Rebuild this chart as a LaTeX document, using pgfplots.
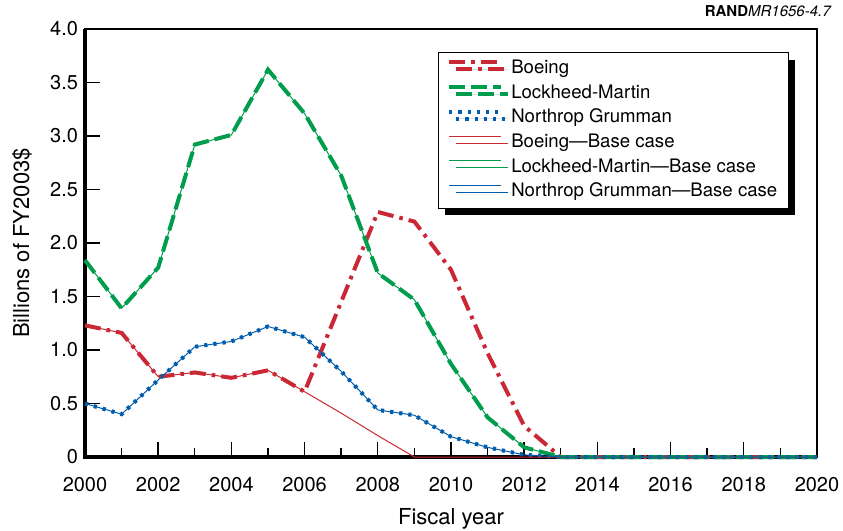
\documentclass[border=0pt]{standalone}
\usepackage{pgfplots}
\pgfplotsset{compat=1.18}
\usepackage{pgfplotstable}
\usetikzlibrary{shadows}
\usepackage{fontspec}
\setmainfont{TeX Gyre Heros}

\definecolor{bred}{RGB}{202,40,52}
\definecolor{lgreen}{RGB}{0,158,76}
\definecolor{nblue}{RGB}{0,92,172}

% year, Boeing, Boeing base case, Lockheed-Martin, Northrop Grumman (billions FY2003$)
\pgfplotstableread{
year  boeing  boeingbase  lm    ng
2000  1.23    1.23        1.84  0.50
2001  1.16    1.16        1.39  0.40
2002  0.75    0.75        1.77  0.72
2003  0.79    0.79        2.92  1.03
2004  0.74    0.74        3.01  1.08
2005  0.81    0.81        3.62  1.22
2006  0.61    0.61        3.21  1.12
2007  1.45    0.41        2.63  0.80
2008  2.29    0.20        1.72  0.44
2009  2.20    0.00        1.47  0.39
2010  1.75    0.00        0.87  0.19
2011  0.97    0.00        0.37  0.09
2012  0.29    0.00        0.09  0.02
2013  0.00    0.00        0.00  0.00
2014  0.00    0.00        0.00  0.00
2015  0.00    0.00        0.00  0.00
2016  0.00    0.00        0.00  0.00
2017  0.00    0.00        0.00  0.00
2018  0.00    0.00        0.00  0.00
2019  0.00    0.00        0.00  0.00
2020  0.00    0.00        0.00  0.00
}\fydata

\begin{document}
\begin{tikzpicture}
\useasboundingbox (-42.5pt,-37pt) rectangle (379pt,228.5pt);
\begin{axis}[
  scale only axis,
  width=366pt, height=214pt,
  xmin=2000, xmax=2020, ymin=0, ymax=4,
  clip=false,
  axis line style={line width=0.7pt},
  tick align=inside,
  xtick pos=bottom, ytick pos=left,
  xtick={2000,2002,...,2020},
  xticklabels={2000,2002,2004,2006,2008,2010,2012,2014,2016,2018,2020},
  minor xtick={2001,2003,...,2019},
  ytick={0,0.5,...,4},
  yticklabels={0,0.5,1.0,1.5,2.0,2.5,3.0,3.5,4.0},
  major tick length=7.5pt, minor tick length=4.5pt,
  tick style={black, line width=0.7pt},
  ticklabel style={font=\fontsize{10}{12}\selectfont},
  xticklabel style={yshift=-6.5pt},
  /pgf/number format/assume math mode=true,
  xlabel={Fiscal year}, ylabel={Billions of FY2003\$},
  label style={font=\fontsize{11}{13}\selectfont},
  xlabel style={at={(axis description cs:0.5,0)}, anchor=center, yshift=-31pt},
  ylabel style={at={(axis description cs:0,0.5)}, anchor=center, xshift=0pt, yshift=31.5pt},
  legend image code/.code={\draw[#1] (0pt,3.3pt) -- (26pt,3.3pt);},
  legend style={at={(axis description cs:1,1)}, xshift=-14pt, yshift=-11.5pt,
    anchor=north east, draw=black, line width=0.7pt, fill=white,
    drop shadow={shadow xshift=3.5pt, shadow yshift=-3.5pt, fill=black, opacity=1},
    font=\fontsize{9.3}{11.2}\selectfont, inner xsep=4.5pt, inner ysep=2pt,
    row sep=0pt, column sep=3pt,
    nodes={inner sep=1pt, text height=7.5pt, text depth=2.8pt}},
  legend cell align=left,
]
\draw[line width=2pt, black] (rel axis cs:0,1) -- (rel axis cs:0,0) -- (rel axis cs:1,0);

\addplot[bred, line width=2pt, dash pattern=on 8pt off 3pt on 1.8pt off 3pt] table[x=year, y=boeing] {\fydata};
\addlegendentry{Boeing}
\addplot[lgreen, line width=2pt, dash pattern=on 8pt off 3pt] table[x=year, y=lm] {\fydata};
\addlegendentry{Lockheed-Martin}
\addplot[nblue, line width=2pt, dash pattern=on 1.6pt off 3pt] table[x=year, y=ng] {\fydata};
\addlegendentry{Northrop Grumman}
\addplot[bred, line width=0.5pt] table[x=year, y=boeingbase] {\fydata};
\addlegendentry{Boeing---Base case}
\addplot[lgreen, line width=0.5pt] table[x=year, y=lm] {\fydata};
\addlegendentry{Lockheed-Martin---Base case}
\addplot[nblue, line width=0.5pt] table[x=year, y=ng] {\fydata};
\addlegendentry{Northrop Grumman---Base case}

\node[anchor=base east, font=\fontsize{7.5}{9}\selectfont, inner sep=0pt]
  at (rel axis cs:1,1) [xshift=7.5pt, yshift=6.5pt] {\textbf{RAND}\textit{MR1656-4.7}};
\end{axis}
\end{tikzpicture}
\end{document}
